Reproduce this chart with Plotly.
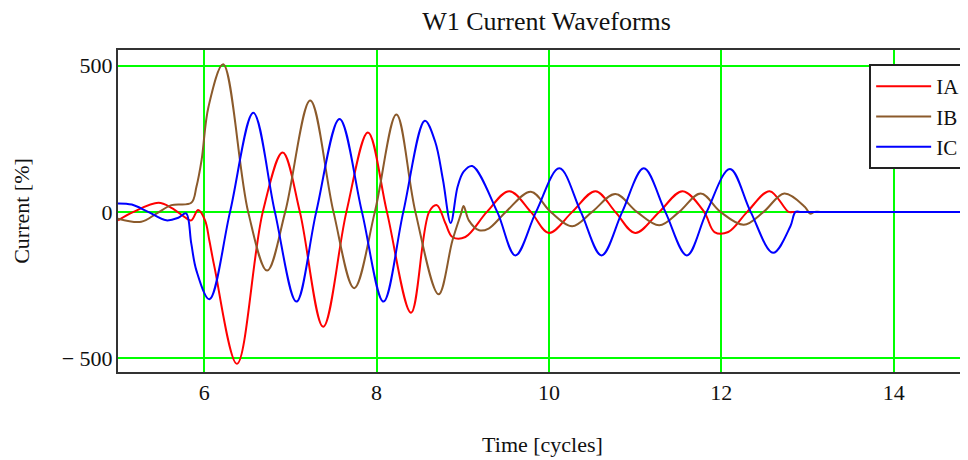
import plotly.graph_objects as go

# Time axis [cycles] and current [%] samples
t_a = [5.0, 5.18, 5.47, 5.62, 5.77, 5.85, 5.93, 6.01, 6.06, 6.12, 6.38, 6.68, 6.91, 7.11,
       7.38, 7.65, 7.90, 8.12, 8.40, 8.61, 8.70, 8.80, 8.88, 9.03, 9.28, 9.54, 9.79, 10.0,
       10.27, 10.54, 10.77, 11.0, 11.28, 11.55, 11.80, 11.92, 12.08, 12.30, 12.56, 12.78,
       12.84, 12.92, 13.5, 14.2, 15.0]
ia = [-29, 0, 31, 14, -17, -29, 6, -29, -98, -190, -520, 0, 203, 0,
      -393, 0, 272, 0, -345, 0, 23, -40, -86, -86, 0, 71, 0, -72,
      0, 71, 0, -72, 0, 71, 0, -69, -69, 0, 71, 0,
      0, 0, 0, 0, 0]

t_b = [5.0, 5.27, 5.45, 5.62, 5.85, 5.91, 5.97, 6.05, 6.22, 6.51, 6.73, 6.94, 7.23, 7.50,
       7.74, 7.98, 8.23, 8.45, 8.72, 8.88, 8.98, 9.01, 9.07, 9.19, 9.30, 9.50, 9.79, 10.02,
       10.27, 10.50, 10.77, 11.02, 11.28, 11.51, 11.76, 11.99, 12.26, 12.49, 12.73, 12.97,
       13.03, 13.08, 13.15, 13.6, 14.3, 15.0]
ib = [-23, -34, -5, 23, 31, 86, 178, 360, 505, 0, -201, 0, 381, 0,
      -261, 0, 333, 0, -282, -98, -6, 20, -29, -63, -57, 0, 69, 0,
      -49, 0, 61, 0, -46, 0, 63, 0, -44, 0, 63, 17,
      -6, 0, 0, 0, 0, 0]

t_c = [5.0, 5.16, 5.35, 5.56, 5.70, 5.79, 5.85, 5.91, 6.06, 6.30, 6.57, 6.82, 7.07, 7.30,
       7.57, 7.83, 8.08, 8.31, 8.56, 8.68, 8.77, 8.86, 8.94, 9.01, 9.11, 9.40, 9.61, 9.85,
       10.12, 10.37, 10.61, 10.85, 11.10, 11.35, 11.60, 11.83, 12.10, 12.34, 12.60, 12.80,
       12.86, 12.92, 13.0, 13.5, 14.2, 15.0]
ic = [29, 25, 0, -29, -20, -5, -108, -201, -299, 0, 339, 0, -307, 0,
      318, 0, -307, 0, 312, 240, 110, -38, 86, 138, 157, 0, -149, 0,
      149, 0, -149, 0, 149, 0, -149, 0, 147, 0, -140, -50,
      0, 0, 0, 0, 0, 0]

series = [("IA", t_a, ia, "#ff0000"), ("IB", t_b, ib, "#8b5a2b"), ("IC", t_c, ic, "#0000ff")]

x_ticks = [6, 8, 10, 12, 14]
y_ticks = [-500, 0, 500]
y_ticktext = ["\u2212 500", "0", "500"]

serif = "Liberation Serif, Times New Roman, serif"

fig = go.Figure()
for name, tx, vy, col in series:
    fig.add_trace(go.Scatter(x=tx, y=vy, name=name, mode="lines",
                             line=dict(color=col, width=2, shape="spline", smoothing=1.0)))

# page body has an 8px margin, so the figure is 8px smaller and margins shifted
fig.update_layout(
    width=960, height=452,
    margin=dict(l=110, r=1, t=42, b=88),
    paper_bgcolor="white", plot_bgcolor="white",
    title=dict(text="W1 Current Waveforms", x=0.561, xanchor="center",
               y=1 - 13 / 452, yanchor="middle", yref="container",
               font=dict(family=serif, size=26, color="#111")),
    font=dict(family=serif, size=22, color="#111"),
    showlegend=True,
    legend=dict(x=0.999, xanchor="right", y=0.9565, yanchor="top",
                bgcolor="white", bordercolor="#222", borderwidth=2,
                font=dict(family=serif, size=21, color="#111"),
                tracegroupgap=0, itemwidth=55),
)

fig.update_xaxes(range=[5.0, 14.85], tickvals=x_ticks, showgrid=True,
                 gridcolor="#00ff00", gridwidth=2, zeroline=False,
                 showline=True, linecolor="#333", linewidth=2, mirror=True,
                 ticks="", ticklabelstandoff=0,
                 title=dict(text="Time [cycles]", standoff=32,
                            font=dict(family=serif, size=22)))
fig.update_yaxes(range=[-548, 554], tickvals=y_ticks, ticktext=y_ticktext,
                 showgrid=True, gridcolor="#00ff00", gridwidth=2, zeroline=False,
                 showline=True, linecolor="#333", linewidth=2, mirror=False,
                 ticks="", ticklabelstandoff=-1,
                 title=dict(text="Current [%]", standoff=26,
                            font=dict(family=serif, size=22)))

fig.write_html("out.html")
